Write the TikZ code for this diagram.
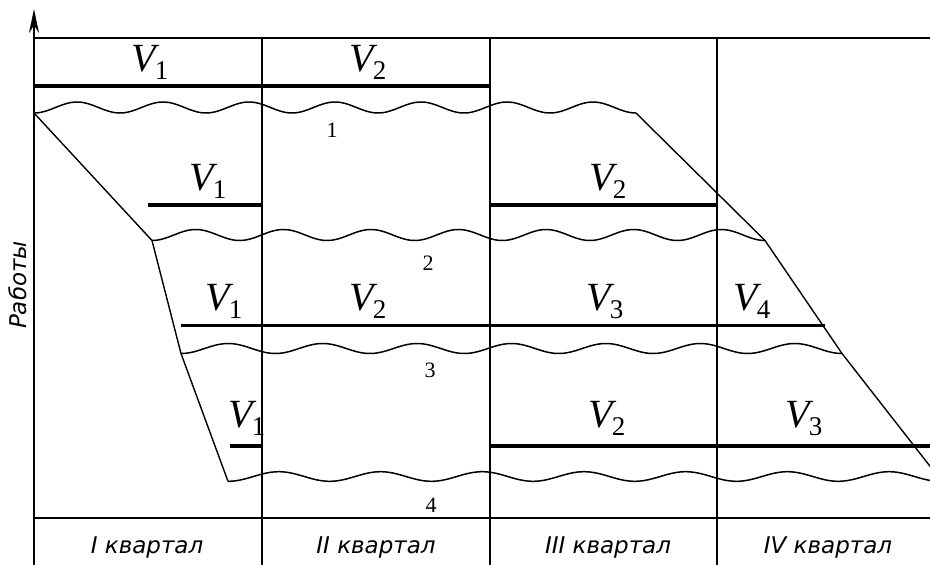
\documentclass[tikz,border=0pt]{standalone}
\usepackage{fontspec}
\setmainfont{Liberation Serif}
\newfontfamily\labfont{DejaVu Sans}
\usetikzlibrary{arrows.meta}
\newcommand{\Vsub}[1]{{\fontsize{40}{40}\selectfont\itshape V}\kern-1pt\raisebox{-8pt}{\fontsize{27}{27}\selectfont #1}}
\begin{document}
\begin{tikzpicture}[x=1pt,y=-1pt,
  gridline/.style={line width=1.8pt},
  axisline/.style={line width=2.4pt},
  bar/.style={line width=3.8pt},
  edgeline/.style={line width=1.4pt, line join=round},
  wave/.style={line width=1.5pt},
  vlab/.style={anchor=south, inner sep=0pt},
  num/.style={font=\fontsize{22}{22}\selectfont, inner sep=0pt},
  qlab/.style={font=\labfont\itshape\fontsize{23}{23}\selectfont, inner sep=0pt}]
\useasboundingbox (0,0) rectangle (930,565);
\clip (0,0) rectangle (930,565);
% frame
\coordinate (ax0) at (34,565);
\coordinate (ax1) at (34,9);
\draw[axisline,-{Stealth[length=24pt,width=10pt]}] (ax0) -- (ax1);
\draw[gridline] (34,38) -- (930,38);
\draw[gridline] (34,518) -- (930,518);
\foreach \vx in {262,490,717} \draw[gridline] (\vx,38) -- (\vx,565);
% waves
\draw[wave] plot[domain=34:636, samples=240, smooth] (\x, {107.5+5.5*cos(((\x-34)/86)*360)});
\draw[wave] plot[domain=152:765, samples=240, smooth] (\x, {235+5.5*cos(((\x-152)/87.571)*360)});
\draw[wave] plot[domain=181:842, samples=240, smooth] (\x, {348.5+5*cos(((\x-181)/94.43)*360)});
\draw[wave] plot[domain=228:930, samples=240, smooth] (\x, {476.5+4.8*cos(((\x-228)/101.7)*360)});
% corners
\coordinate (w1s) at (34,113);
\coordinate (w1e) at (636,113);
\coordinate (w2s) at (152,240.5);
\coordinate (w2e) at (765,240.5);
\coordinate (w3s) at (181,353.5);
\coordinate (w3e) at (842,353.5);
\coordinate (w4s) at (228,481.3);
\coordinate (r4) at (940,479);
\draw[edgeline] (w1s) -- (w2s) -- (w3s) -- (w4s);
\draw[edgeline] (w1e) -- (w2e) -- (w3e) -- (r4);
% bars
\draw[bar] (34,86) -- (490,86);
\draw[bar] (148,205) -- (262,205);
\draw[bar] (490,205) -- (717,205);
\draw[bar] (181,325.5) -- (825,325.5);
\draw[bar] (230,446) -- (262,446);
\draw[bar] (490,446) -- (930,446);
% V labels
\node[vlab] (a1) at (150,80) {\Vsub{1}};
\node[vlab] (a2) at (368,80) {\Vsub{2}};
\node[vlab] (b1) at (208,199) {\Vsub{1}};
\node[vlab] (b2) at (608,199) {\Vsub{2}};
\node[vlab] (c1) at (224,319) {\Vsub{1}};
\node[vlab] (c2) at (368,319) {\Vsub{2}};
\node[vlab] (c3) at (605,319) {\Vsub{3}};
\node[vlab] (c4) at (752,319) {\Vsub{4}};
\node[vlab] (d1) at (247,436) {\Vsub{1}};
\node[vlab] (d2) at (607,436) {\Vsub{2}};
\node[vlab] (d3) at (804,436) {\Vsub{3}};
% numbers
\node[num] (n1) at (332,130) {1};
\node[num] (n2) at (428,263) {2};
\node[num] (n3) at (430,370) {3};
\node[num] (n4) at (431,505) {4};
% quarter labels
\node[qlab] (q1) at (147,548) {I квартал};
\node[qlab] (q2) at (376,548) {II квартал};
\node[qlab] (q3) at (608,548) {III квартал};
\node[qlab] (q4) at (828,548) {IV квартал};
\node[qlab, rotate=90] (yl) at (18,285) {Работы};
\end{tikzpicture}
\end{document}
